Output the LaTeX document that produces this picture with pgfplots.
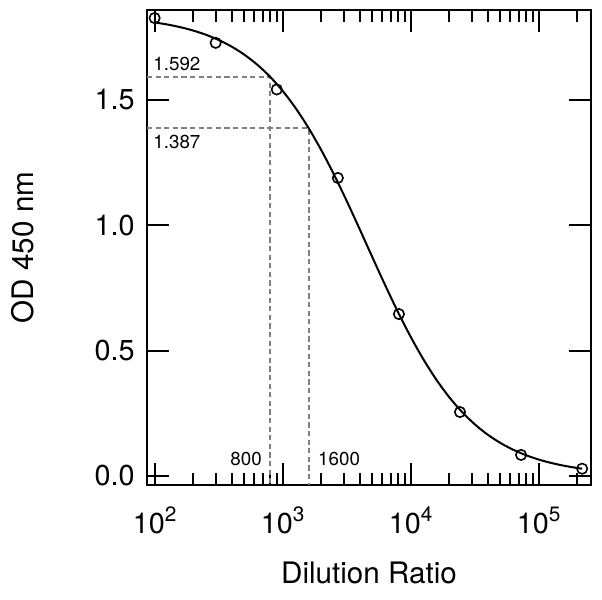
\documentclass[border=0pt]{standalone}
\usepackage{fontspec}
\setmainfont{TeX Gyre Heros}
\usepackage{pgfplots}
\pgfplotsset{compat=1.18}
\definecolor{dashgray}{RGB}{128,128,128}
\newcommand{\ex}[1]{10\raisebox{6pt}{\fontsize{10.4}{11}\selectfont #1}}
\begin{document}
\begin{tikzpicture}
\begin{axis}[
  scale only axis, width=222pt, height=237.5pt,
  xmode=log, xmin=87.2, xmax=256500, ymin=-0.036, ymax=1.859,
  axis line style={line width=1pt},
  tick align=inside, major tick length=11pt, minor tick length=6pt,
  every tick/.style={line width=1pt, black},
  xtick={100,1000,10000,100000},
  xticklabels={\ex{2},\ex{3},\ex{4},\ex{5}},
  minor xtick={200,300,400,500,600,700,800,900,2000,3000,4000,5000,6000,7000,8000,9000,20000,30000,40000,50000,60000,70000,80000,90000,200000},
  ytick={0,0.5,1,1.5}, yticklabels={0.0,0.5,1.0,1.5},
  minor ytick={},
  ticklabel style={font=\fontsize{14.4}{16}\selectfont},
  xticklabel style={anchor=base, yshift=-24.5pt},
  yticklabel style={anchor=east, inner sep=0pt, xshift=-6pt},
  every axis x label/.style={at={(axis description cs:0.5,-0.186)},anchor=center},
  every axis y label/.style={at={(axis description cs:-0.28,0.5)},rotate=90,anchor=center},
  label style={font=\fontsize{14.8}{16}\selectfont},
  xlabel={Dilution Ratio}, ylabel={OD 450 nm},
  clip=false,
]
\addplot[dashgray, line width=0.9pt, dash pattern=on 2.6pt off 1.7pt] coordinates {(87.2,1.592) (800,1.592) (800,-0.036)};
\addplot[dashgray, line width=0.9pt, dash pattern=on 2.6pt off 1.7pt] coordinates {(87.2,1.387) (1600,1.387) (1600,-0.036)};
\addplot[black, line width=1pt, smooth] coordinates {
(100,1.8094) (125.89,1.8011) (158.49,1.7905) (199.53,1.7772) (251.19,1.7604)
(316.23,1.7394) (398.11,1.7134) (501.19,1.6811) (630.96,1.6416) (794.33,1.5938)
(1000,1.5363) (1258.9,1.4687) (1584.9,1.3904) (1995.3,1.3018) (2511.9,1.2038)
(3162.3,1.0978) (3981.1,0.9869) (5011.9,0.8738) (6309.6,0.7623) (7943.3,0.6553)
(10000,0.5556) (12589,0.4651) (15849,0.3849) (19953,0.3154) (25119,0.2562)
(31623,0.2066) (39811,0.1656) (50119,0.1321) (63096,0.1049) (79433,0.0831)
(100000,0.0656) (125893,0.0517) (158489,0.0407) (199526,0.0320) (218776,0.0290)};
\addplot[only marks, mark=o, mark size=2.6pt, mark options={line width=0.8pt, black}] coordinates {
(100,1.827) (300,1.728) (900,1.542) (2700,1.189) (8100,0.646) (24300,0.255) (72900,0.084) (218700,0.029)};
\node[anchor=south west, inner sep=0pt, font=\fontsize{9.4}{10}\selectfont, xshift=3pt, yshift=3pt] at (axis cs:87.2,1.592) {1.592};
\node[anchor=north west, inner sep=0pt, font=\fontsize{9.4}{10}\selectfont, xshift=3pt, yshift=-3pt] at (axis cs:87.2,1.387) {1.387};
\node[anchor=south east, inner sep=0pt, font=\fontsize{9.4}{10}\selectfont, xshift=-4pt] at (axis cs:800,0.04) {800};
\node[anchor=south west, inner sep=0pt, font=\fontsize{9.4}{10}\selectfont, xshift=4.5pt] at (axis cs:1600,0.04) {1600};
\path (rel axis cs:0,0) ++(-73.5pt,-57.5pt) coordinate (bbsw);
\path (rel axis cs:1,1) ++(5.5pt,5pt) coordinate (bbne);
\end{axis}
\useasboundingbox (bbsw) rectangle (bbne);
\end{tikzpicture}
\end{document}
